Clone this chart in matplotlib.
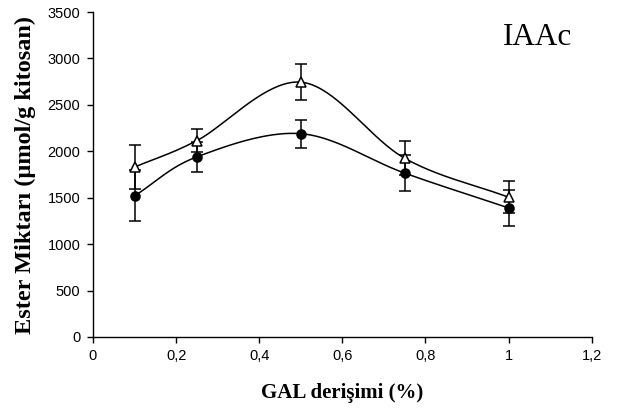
import numpy as np
import matplotlib
matplotlib.use('Agg')
import matplotlib.pyplot as plt

# GAL concentration (%)
gal = [0.1, 0.25, 0.5, 0.75, 1.0]

# ester amount (umol/g chitosan)
circle_vals = [1520, 1940, 2190, 1765, 1390]
circle_err = [275, 160, 150, 197, 195]
tri_vals = [1830, 2115, 2745, 1925, 1505]
tri_err = [240, 120, 195, 183, 175]

xticks = [0, 0.2, 0.4, 0.6, 0.8, 1.0, 1.2]
xtick_labels = ['0', '0,2', '0,4', '0,6', '0,8', '1', '1,2']
yticks = [0, 500, 1000, 1500, 2000, 2500, 3000, 3500]


def smooth(x, y, n=40, t=0.5):
	# cardinal spline through points, like spreadsheet smoothed lines
	x = np.asarray(x, float)
	y = np.asarray(y, float)
	px = np.concatenate([[2 * x[0] - x[1]], x, [2 * x[-1] - x[-2]]])
	py = np.concatenate([[2 * y[0] - y[1]], y, [2 * y[-1] - y[-2]]])
	xs, ys = [], []
	s = np.linspace(0, 1, n)
	for i in range(1, len(px) - 2):
		mx0 = t * (px[i + 1] - px[i - 1])
		mx1 = t * (px[i + 2] - px[i])
		my0 = t * (py[i + 1] - py[i - 1])
		my1 = t * (py[i + 2] - py[i])
		h00 = 2 * s**3 - 3 * s**2 + 1
		h10 = s**3 - 2 * s**2 + s
		h01 = -2 * s**3 + 3 * s**2
		h11 = s**3 - s**2
		xs.append(h00 * px[i] + h10 * mx0 + h01 * px[i + 1] + h11 * mx1)
		ys.append(h00 * py[i] + h10 * my0 + h01 * py[i + 1] + h11 * my1)
	return np.concatenate(xs), np.concatenate(ys)


fig = plt.figure(figsize=(6.39, 4.16), dpi=100)
ax = fig.add_axes([0.1455, 0.19, 0.7805, 0.781])

for vals, err, mk, fc in ((tri_vals, tri_err, '^', 'white'), (circle_vals, circle_err, 'o', 'black')):
	sx, sy = smooth(gal, vals)
	ax.plot(sx, sy, color='black', lw=1.1, zorder=2)
	ax.errorbar(gal, vals, yerr=err, fmt='none', ecolor='black', elinewidth=1.1, capsize=4, capthick=1.1, zorder=3)
	ax.plot(gal, vals, ls='none', marker=mk, ms=6.5, mfc=fc, mec='black', mew=1.1, zorder=4)

ax.set_xlim(0, 1.2)
ax.set_ylim(0, 3500)
ax.set_xticks(xticks)
ax.set_xticklabels(xtick_labels)
ax.set_yticks(yticks)
ax.spines['top'].set_visible(False)
ax.spines['right'].set_visible(False)
for sp in ('left', 'bottom'):
	ax.spines[sp].set_linewidth(1.0)
ax.tick_params(direction='out', length=4, width=1.0, labelsize=10.5, pad=5)
for lab in ax.get_xticklabels() + ax.get_yticklabels():
	lab.set_fontfamily('Liberation Sans')

ax.set_xlabel('GAL derişimi (%)', fontfamily='Liberation Serif', fontweight='bold', fontsize=15, labelpad=14)
ax.set_ylabel('Ester Miktarı (µmol/g kitosan)', fontfamily='Liberation Serif', fontweight='bold', fontsize=17.5, labelpad=8)
ax.text(0.892, 0.922, 'IAAc', transform=ax.transAxes, fontfamily='Liberation Serif', fontsize=22.5, ha='center', va='center')

fig.savefig('out.png', dpi=100)
